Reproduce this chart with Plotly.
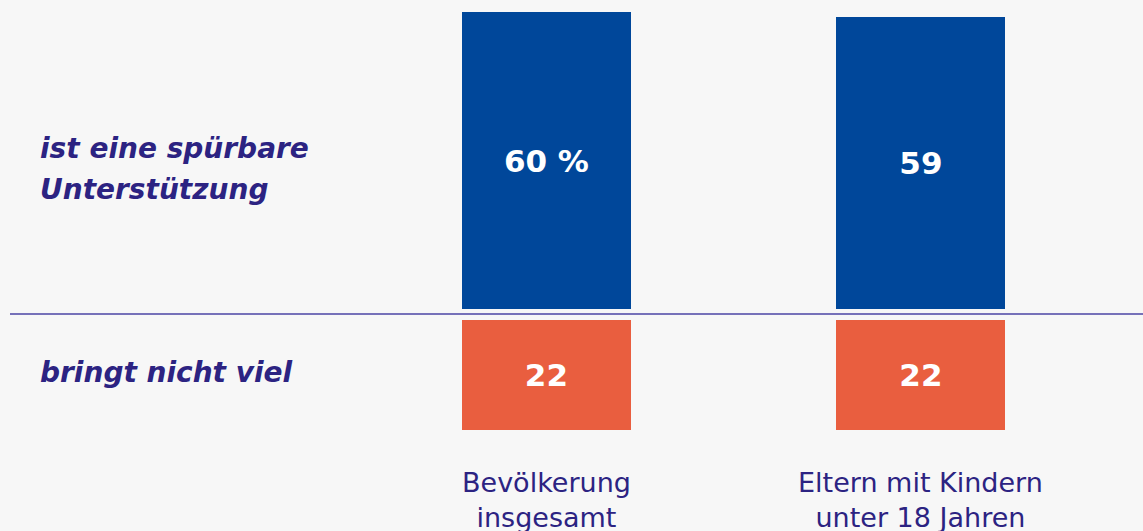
import plotly.graph_objects as go
from plotly.subplots import make_subplots

categories = ["Bevölkerung<br>insgesamt", "Eltern mit Kindern<br>unter 18 Jahren"]
support_values = [60, 59]
support_labels = ["60 %", "59"]
not_much_values = [22, 22]
not_much_labels = ["22", "22"]
row_labels = ["ist eine spürbare<br>Unterstützung", "bringt nicht viel"]

BLUE = "#00479a"
ORANGE = "#e95e3f"
INK = "#2c2382"
BG = "#f7f7f7"
FONT = "DejaVu Sans"

W, H = 1143, 531
def py(p):
    return 1 - p / H

fig = make_subplots(rows=2, cols=1)
xpos = [0, 1]

fig.add_trace(go.Bar(x=xpos, y=support_values, text=support_labels,
                     marker=dict(color=BLUE, line=dict(width=0)), width=0.451,
                     textposition="inside", insidetextanchor="middle",
                     textfont=dict(color="white", size=31, family=FONT, weight="bold"),
                     cliponaxis=False, hoverinfo="skip"), row=1, col=1)
fig.add_trace(go.Bar(x=xpos, y=not_much_values, text=not_much_labels,
                     marker=dict(color=ORANGE, line=dict(width=0)), width=0.451,
                     textposition="inside", insidetextanchor="middle",
                     textfont=dict(color="white", size=31, family=FONT, weight="bold"),
                     cliponaxis=False, hoverinfo="skip"), row=2, col=1)

xr = [-1.459, 1.593]
common_x = dict(range=xr, visible=False, fixedrange=True)
fig.update_layout(
    xaxis=dict(domain=[0, 1], **common_x),
    xaxis2=dict(domain=[0, 1], **common_x),
    yaxis=dict(domain=[py(309), 1], range=[0, 309 / 4.95], visible=False, fixedrange=True),
    yaxis2=dict(domain=[0, py(320)], range=[211 / 5.0, 0], visible=False, fixedrange=True),
)

# baseline
fig.add_shape(type="line", xref="paper", yref="paper", x0=10 / W, x1=1,
              y0=py(314), y1=py(314), line=dict(color="#4b45a5", width=1.5))

# row labels (one annotation per text line, 42 px line pitch)
row_centers = [169, 372]
for label, yc in zip(row_labels, row_centers):
    lines = label.split("<br>")
    n = len(lines)
    for i, ln in enumerate(lines):
        yy = yc + (i - (n - 1) / 2) * 42
        fig.add_annotation(text="<b><i>" + ln + "</i></b>", xref="paper", yref="paper",
                           x=38 / W, y=py(yy), xanchor="left", yanchor="middle", align="left",
                           showarrow=False, font=dict(color=INK, size=28, family=FONT))

# category labels
for xi, cat in zip(xpos, categories):
    fig.add_annotation(text=cat, xref="x2", yref="paper", x=xi, y=py(500),
                       xanchor="center", yanchor="middle", align="center",
                       showarrow=False, font=dict(color=INK, size=27, family=FONT))

fig.update_layout(width=W, height=H, margin=dict(l=0, r=0, t=0, b=0),
                  paper_bgcolor=BG, plot_bgcolor=BG, showlegend=False, bargap=0,
                  hovermode=False)
fig.write_html("out.html", config={"displayModeBar": False, "staticPlot": True},
               post_script=(
                   "document.body.style.margin='0px';document.body.style.overflow='hidden';"
                   "document.body.style.background='#f7f7f7';"))
